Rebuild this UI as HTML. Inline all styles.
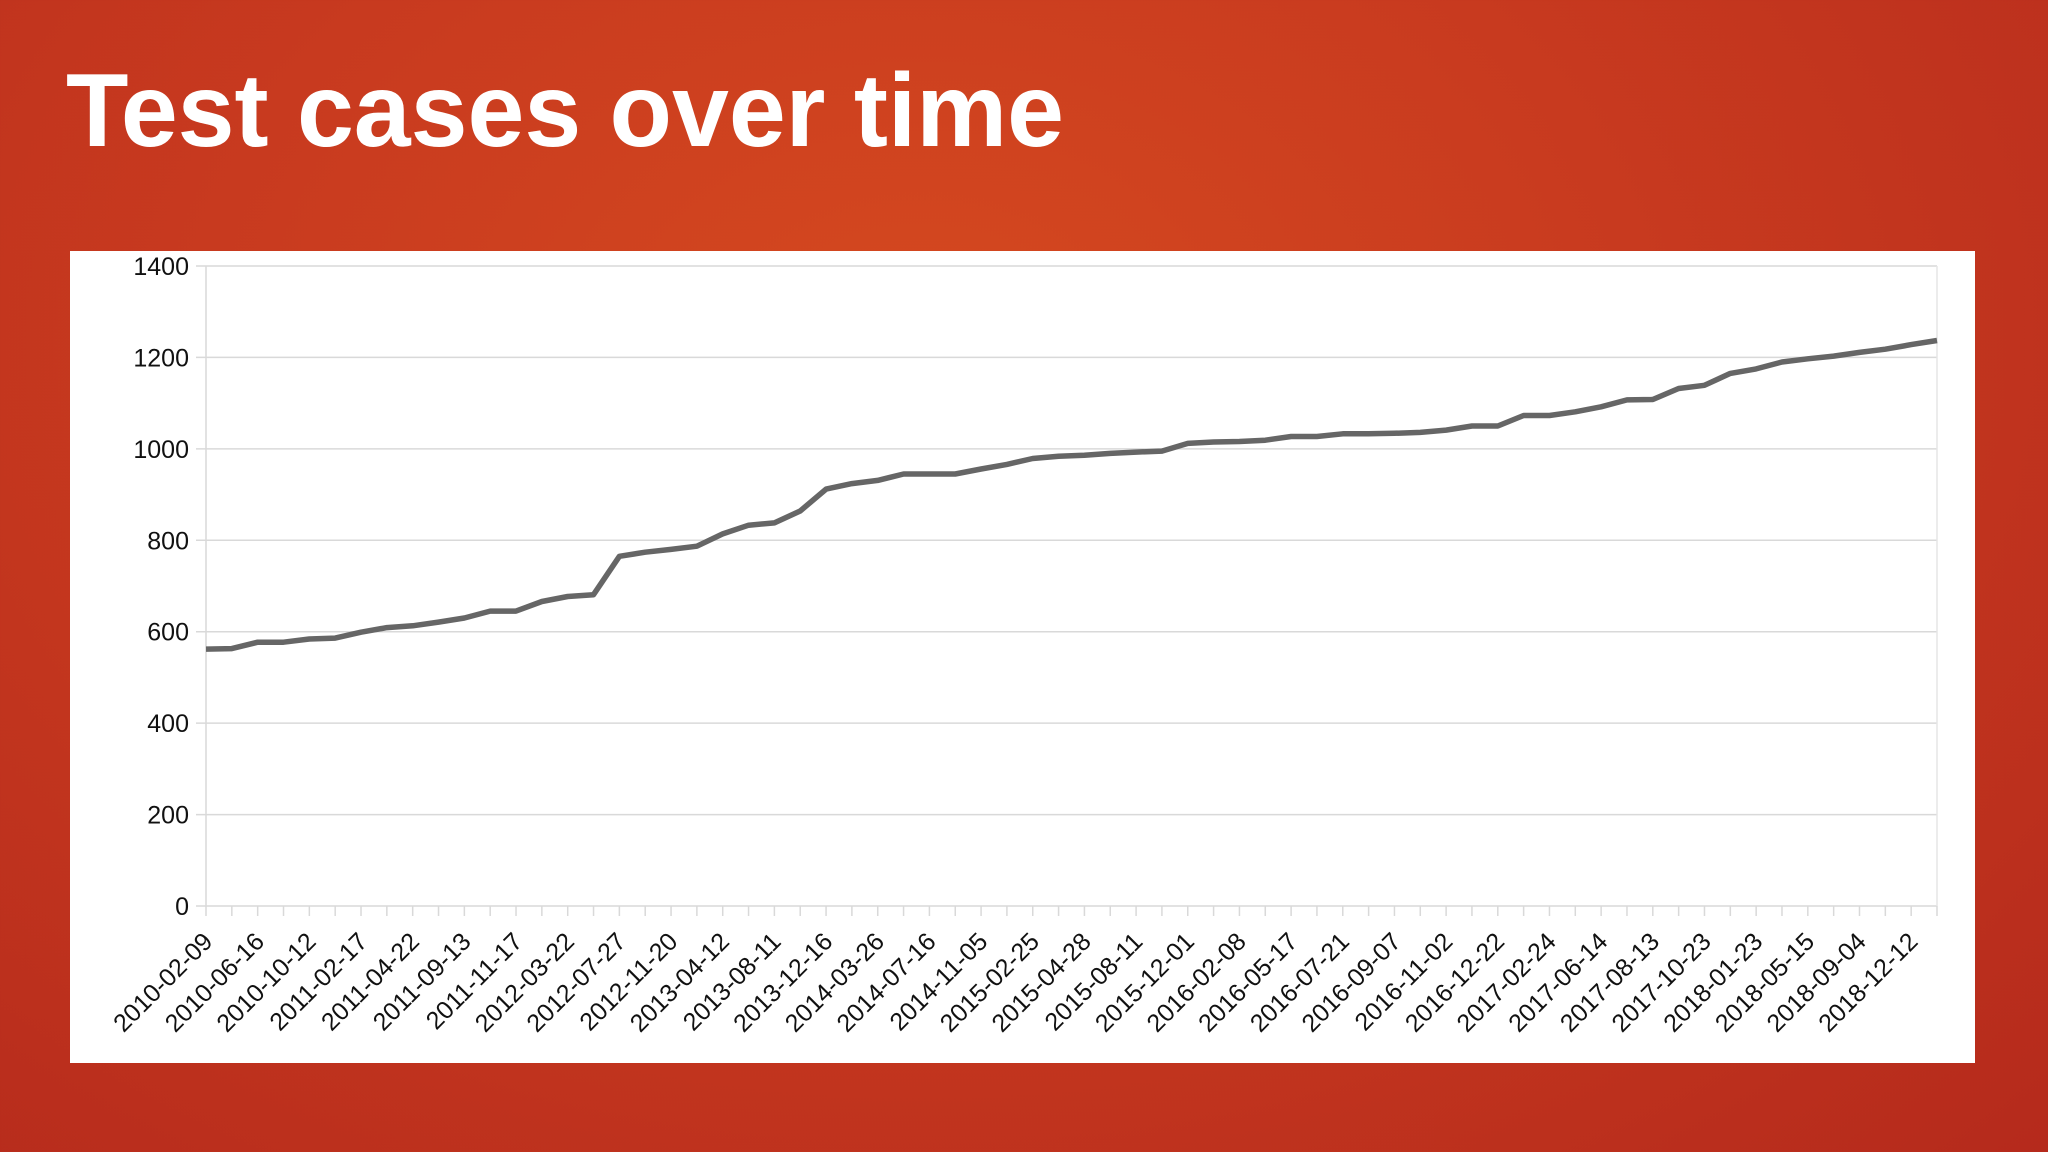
<!DOCTYPE html>
<html><head><meta charset="utf-8"><style>
html,body{margin:0;padding:0;width:2048px;height:1152px;overflow:hidden}
body{background:radial-gradient(ellipse at 45% 30%,#d5491f 0%,#c83a1f 45%,#b52a1c 100%);font-family:"Liberation Sans",sans-serif}
</style></head><body>
<svg width="2048" height="1152" xmlns="http://www.w3.org/2000/svg" id="svg">
<text x="66" y="146" fill="#fff" font-family="Liberation Sans, sans-serif" font-weight="bold" font-size="104" textLength="998" lengthAdjust="spacingAndGlyphs">Test cases over time</text>
<rect x="70" y="251" width="1905" height="812" fill="#fff"/>
<g id="grid"></g><g id="axes"></g><g id="labels"></g><g id="series"></g>
</svg>
<script>
const categories=["2010-02-09","2010-06-16","2010-10-12","2011-02-17","2011-04-22","2011-09-13","2011-11-17","2012-03-22","2012-07-27","2012-11-20","2013-04-12","2013-08-11","2013-12-16","2014-03-26","2014-07-16","2014-11-05","2015-02-25","2015-04-28","2015-08-11","2015-12-01","2016-02-08","2016-05-17","2016-07-21","2016-09-07","2016-11-02","2016-12-22","2017-02-24","2017-06-14","2017-08-13","2017-10-23","2018-01-23","2018-05-15","2018-09-04","2018-12-12"];
const values=[562,563,577,577,584,586,599,609,613,621,630,645,645,666,677,681,765,774,780,787,814,833,838,864,912,924,931,945,945,945,956,966,979,984,986,990,993,995,1012,1015,1016,1019,1027,1027,1033,1033,1034,1036,1041,1050,1050,1073,1073,1081,1092,1107,1108,1132,1139,1165,1175,1190,1197,1203,1211,1218,1228,1237];
const yTicks=[0,200,400,600,800,1000,1200,1400];
const NS="http://www.w3.org/2000/svg";
const X0=206,X1=1937,Y0=906,Y1=266,YMAX=1400;
const n=values.length;
function xs(i){return X0+(X1-X0)*i/(n-1);}
function ys(v){return Y0-(Y0-Y1)*v/YMAX;}
function mk(t,a,p){const e=document.createElementNS(NS,t);for(const k in a)e.setAttribute(k,a[k]);document.getElementById(p).appendChild(e);return e;}
yTicks.forEach(v=>{
 const l=mk('line',{x1:X0-10,x2:X1,y1:ys(v),y2:ys(v),stroke:'#d9d9d9','stroke-width':1.5},'grid');
 
 
 const t=mk('text',{x:189,y:ys(v)+9,'text-anchor':'end','font-size':25,fill:'#111'},'labels');
 t.textContent=v;
 
 
});
const ax=mk('line',{x1:X0,x2:X0,y1:Y1,y2:Y0,stroke:'#d9d9d9','stroke-width':1.5},'axes');


const rx=mk('line',{x1:X1,x2:X1,y1:Y1,y2:Y0,stroke:'#e6e6e6','stroke-width':1.5},'axes');


for(let i=0;i<n;i++){
 const tk=mk('line',{x1:xs(i),x2:xs(i),y1:Y0,y2:Y0+10,stroke:'#d9d9d9','stroke-width':1.5},'axes');
 
 
}
categories.forEach((c,k)=>{
 const x=xs(k*2)+8,y=943;
 const t=mk('text',{x:x,y:y,'text-anchor':'end','font-size':25,fill:'#111',transform:`rotate(-45 ${x} ${y})`},'labels');
 t.textContent=c;
 
 
});
const pts=values.map((v,i)=>xs(i).toFixed(1)+','+ys(v).toFixed(1)).join(' ');
const pl=mk('polyline',{points:pts,fill:'none',stroke:'#666','stroke-width':5.5,'stroke-linejoin':'round'},'series');


</script>
</body></html>
